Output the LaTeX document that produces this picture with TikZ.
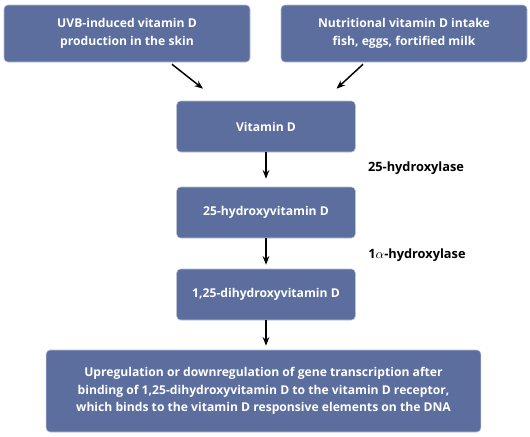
\documentclass[tikz,border=0pt]{standalone}
\usepackage{fontspec}
\setmainfont{Open Sans}
\usetikzlibrary{positioning, arrows.meta, calc}
\definecolor{boxblue}{RGB}{92,110,158}
\tikzset{
    stage/.style={rectangle, rounded corners=3pt, fill=boxblue, draw=boxblue!45!white, line width=0.4pt,
        text=white, font=\bfseries\fontsize{9.1}{13}\selectfont, align=center, inner sep=2pt},
    enzyme/.style={font=\bfseries\fontsize{9.6}{12}\selectfont, text=black},
    flow/.style={-{Stealth[length=6.5pt, width=5pt]}, line width=1.1pt}
}

\begin{document}
\begin{tikzpicture}[x=0.75pt, y=-0.75pt]
    \useasboundingbox (0,0) rectangle (530,436);

    % --- SOURCES ---
    \node[stage, minimum width=184.5pt, minimum height=42.75pt] (skin) at (127,33.5)
        {UVB-induced vitamin D\\production in the skin};
    \node[stage, minimum width=184.5pt, minimum height=42.75pt] (diet) at (404,33.5)
        {Nutritional vitamin D intake\\fish, eggs, fortified milk};

    % --- METABOLITES ---
    \node[stage, minimum width=134pt, minimum height=38.25pt] (vitd) at (266,126.5) {Vitamin D};
    \node[stage, minimum width=134pt, minimum height=38.25pt] (calcidiol) at (266,212.5) {25-hydroxyvitamin D};
    \node[stage, minimum width=134pt, minimum height=38.25pt] (calcitriol) at (266,294.5) {1,25-dihydroxyvitamin D};

    % --- EFFECT ---
    \node[stage, minimum width=326pt, minimum height=61.5pt] (gene) at (263.5,391)
        {Upregulation or downregulation of gene transcription after\\
         binding of 1,25-dihydroxyvitamin D to the vitamin D receptor,\\
         which binds to the vitamin D responsive elements on the DNA};

    % Enzymes
    \node[enzyme] (hydr25) at (416,168) {25-hydroxylase};
    \node[enzyme] (hydr1a) at (417,255) {1$\alpha$-hydroxylase};

    % Arrows
    \draw[flow] ($(skin.south)+(45,2)$) -- ($(vitd.north)+(-63,-12)$);
    \draw[flow] ($(diet.south)+(-41,2)$) -- ($(vitd.north)+(70.5,-12)$);
    \draw[flow, shorten >=6pt] (vitd.south) -- (vitd.south |- calcidiol.north);
    \draw[flow, shorten >=3pt] (calcidiol.south) -- (calcidiol.south |- calcitriol.north);
    \draw[flow, shorten >=3pt] (calcitriol.south) -- (calcitriol.south |- gene.north);
\end{tikzpicture}
\end{document}
